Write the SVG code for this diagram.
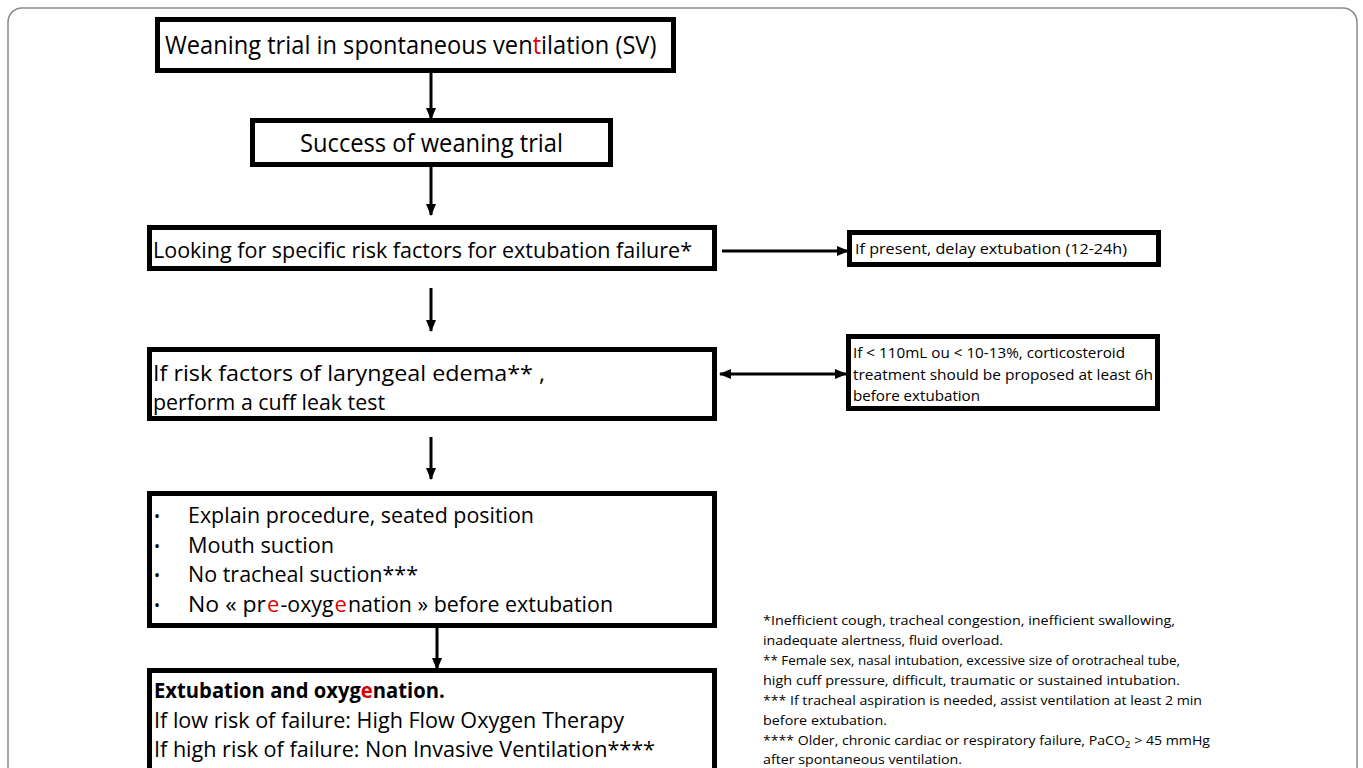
<svg xmlns="http://www.w3.org/2000/svg" width="1363" height="768" viewBox="0 0 1363 768">
<style>
.box{fill:#fff;stroke:#000;stroke-width:5}
.sbox{fill:#fff;stroke:#000;stroke-width:5}
.t{font-family:"Open Sans",Lato,"Liberation Sans",sans-serif;fill:#000}
.big{font-size:25px}
.mid{font-size:22px}
.sm{font-size:15px}
.fn{font-size:13.5px}
.red{fill:#e00000}
.b{font-weight:bold}
.conn{stroke:#000;stroke-width:3;fill:none}
</style>
<defs>
<marker id="ah" viewBox="0 0 12 12" refX="11" refY="6" markerWidth="12" markerHeight="12" markerUnits="userSpaceOnUse" orient="auto-start-reverse">
<path d="M0,1 L12,6 L0,11 Z" fill="#000"/>
</marker>
</defs>
<rect x="8" y="8" width="1349" height="790" rx="14" fill="#fff" stroke="#8a8a8a" stroke-width="1.5"/>

<g id="connectors">
<line class="conn" x1="431" y1="72" x2="431" y2="119" marker-end="url(#ah)"/>
<line class="conn" x1="431" y1="166" x2="431" y2="215" marker-end="url(#ah)"/>
<line class="conn" x1="722" y1="251" x2="848" y2="251" marker-end="url(#ah)"/>
<line class="conn" x1="431" y1="288" x2="431" y2="331" marker-end="url(#ah)"/>
<line class="conn" x1="720" y1="374" x2="846" y2="374" marker-start="url(#ah)" marker-end="url(#ah)"/>
<line class="conn" x1="431" y1="437" x2="431" y2="479" marker-end="url(#ah)"/>
<line class="conn" x1="437" y1="628" x2="437" y2="669" marker-end="url(#ah)"/>
</g>

<g id="n1">
<rect class="box" x="157.5" y="19.5" width="516" height="51"/>
<text class="t big" transform="translate(165,54) scale(0.946,1)" x="0" y="0">Weaning trial in spontaneous ven<tspan class="red">t</tspan>ilation (SV)</text>
</g>

<g id="n2">
<rect class="box" x="252.5" y="120.5" width="358" height="44"/>
<text class="t big" x="300" y="152" textLength="263" lengthAdjust="spacingAndGlyphs">Success of weaning trial</text>
</g>

<g id="n3">
<rect class="box" x="149.5" y="227.5" width="565" height="41"/>
<text class="t mid" x="153" y="258" textLength="539" lengthAdjust="spacingAndGlyphs">Looking for specific risk factors for extubation failure*</text>
</g>

<g id="n3r">
<rect class="sbox" x="849.5" y="232.5" width="309" height="32"/>
<text class="t sm" x="855" y="254" textLength="272" lengthAdjust="spacingAndGlyphs">If present, delay extubation (12-24h)</text>
</g>

<g id="n4">
<rect class="box" x="149.5" y="349.5" width="565" height="69"/>
<text class="t mid" x="153" y="381" textLength="392" lengthAdjust="spacingAndGlyphs">If risk factors of laryngeal edema** ,</text>
<text class="t mid" x="153" y="410" textLength="232" lengthAdjust="spacingAndGlyphs">perform a cuff leak test</text>
</g>

<g id="n4r">
<rect class="sbox" x="848.5" y="336.5" width="309" height="72"/>
<text class="t sm" x="853" y="358" textLength="272" lengthAdjust="spacingAndGlyphs">If &lt; 110mL ou &lt; 10-13%, corticosteroid</text>
<text class="t sm" x="853" y="380" textLength="300" lengthAdjust="spacingAndGlyphs">treatment should be proposed at least 6h</text>
<text class="t sm" x="853" y="401" textLength="127" lengthAdjust="spacingAndGlyphs">before extubation</text>
</g>

<g id="n5">
<rect class="box" x="149.5" y="493.5" width="565" height="132"/>
<text class="t" x="154" y="522" font-size="16px">•</text>
<text class="t mid" x="188" y="523" textLength="346" lengthAdjust="spacingAndGlyphs">Explain procedure, seated position</text>
<text class="t" x="154" y="552" font-size="16px">•</text>
<text class="t mid" x="188" y="553" textLength="146" lengthAdjust="spacingAndGlyphs">Mouth suction</text>
<text class="t" x="154" y="581" font-size="16px">•</text>
<text class="t mid" x="188" y="582" textLength="230" lengthAdjust="spacingAndGlyphs">No tracheal suction***</text>
<text class="t" x="154" y="611" font-size="16px">•</text>
<text class="t mid" x="188" y="612" textLength="78" lengthAdjust="spacingAndGlyphs">No  « pr</text>
<text class="t mid red" x="267" y="612">e</text>
<text class="t mid" x="280.5" y="612" textLength="53" lengthAdjust="spacingAndGlyphs">-oxyg</text>
<text class="t mid red" x="334.5" y="612">e</text>
<text class="t mid" x="348" y="612" textLength="265" lengthAdjust="spacingAndGlyphs">nation » before extubation</text>
</g>

<g id="n6">
<rect class="box" x="149.5" y="670.5" width="565" height="110"/>
<text class="t mid b" transform="translate(154,698) scale(0.92,1)" x="0" y="0">Extubation and oxyg<tspan class="red">e</tspan>nation.</text>
<text class="t mid" x="154" y="728" textLength="470" lengthAdjust="spacingAndGlyphs">If low risk of failure: High Flow Oxygen Therapy</text>
<text class="t mid" x="154" y="757" textLength="501" lengthAdjust="spacingAndGlyphs">If high risk of failure: Non Invasive Ventilation****</text>
</g>

<g id="footnotes">
<text class="t fn" x="763" y="625" textLength="412" lengthAdjust="spacingAndGlyphs">*Inefficient cough, tracheal congestion, inefficient swallowing,</text>
<text class="t fn" x="763" y="645" textLength="240" lengthAdjust="spacingAndGlyphs">inadequate alertness, fluid overload.</text>
<text class="t fn" x="763" y="665" textLength="417" lengthAdjust="spacingAndGlyphs">** Female sex, nasal intubation, excessive size of orotracheal tube,</text>
<text class="t fn" x="763" y="685" textLength="417" lengthAdjust="spacingAndGlyphs">high cuff pressure, difficult, traumatic or sustained intubation.</text>
<text class="t fn" x="763" y="705" textLength="439" lengthAdjust="spacingAndGlyphs">*** If tracheal aspiration is needed, assist ventilation at least 2 min</text>
<text class="t fn" x="763" y="725" textLength="124" lengthAdjust="spacingAndGlyphs">before extubation.</text>
<text class="t fn" x="763" y="745" textLength="447" lengthAdjust="spacingAndGlyphs">**** Older, chronic cardiac or respiratory failure, PaCO<tspan font-size="9.5px" dy="3">2</tspan><tspan dy="-3"> &gt; 45 mmHg</tspan></text>
<text class="t fn" x="763" y="764" textLength="199" lengthAdjust="spacingAndGlyphs">after spontaneous ventilation.</text>
</g>
</svg>
